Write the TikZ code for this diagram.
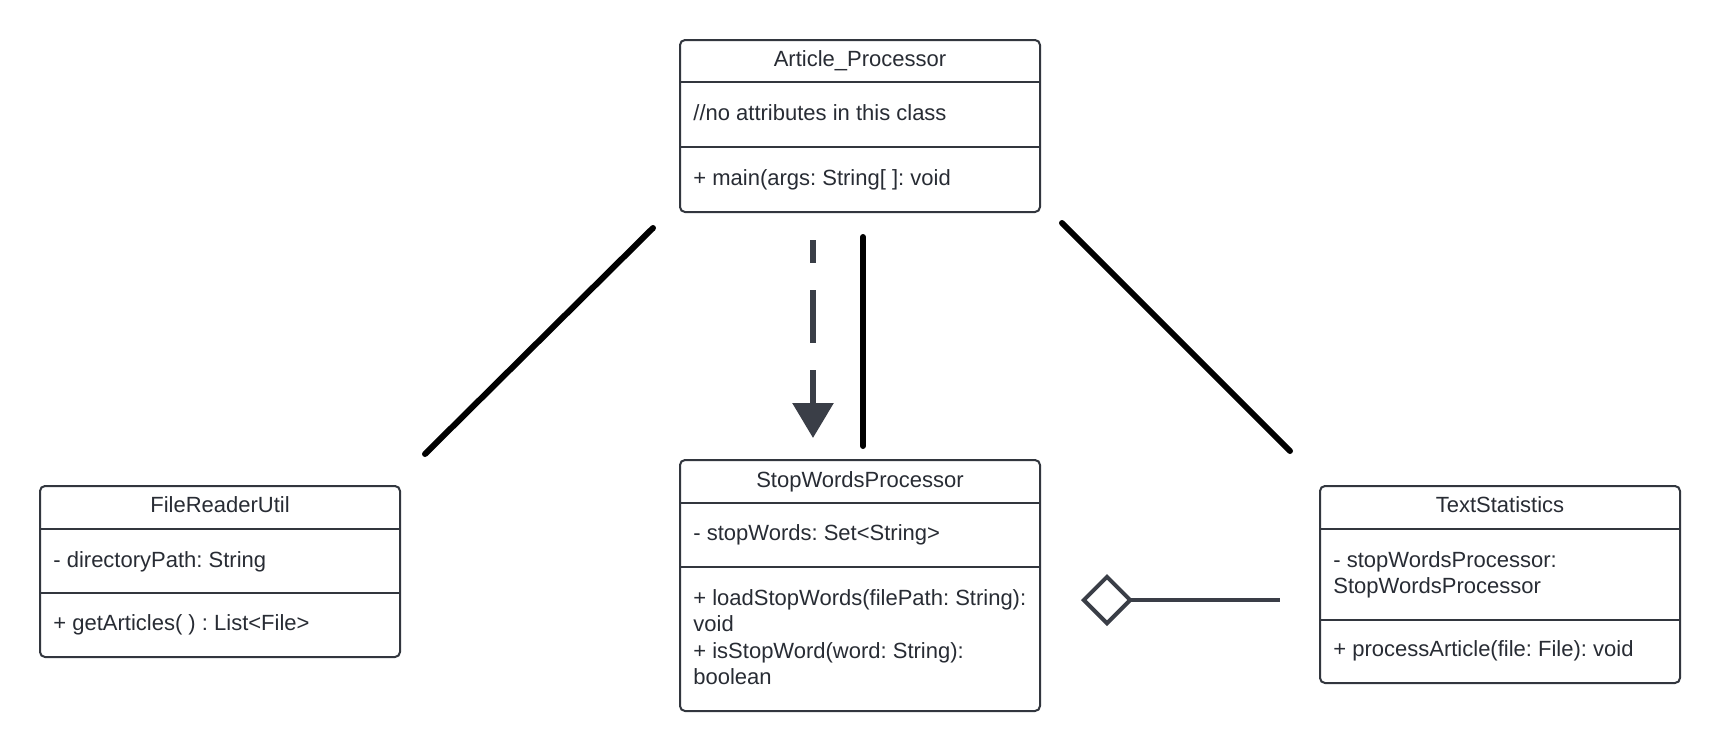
\documentclass[tikz,border=0pt]{standalone}
\usepackage{fontspec}
\setmainfont{Liberation Sans}
\usetikzlibrary{arrows.meta}
\definecolor{umltext}{RGB}{40,44,52}
\definecolor{umlline}{RGB}{50,54,62}
\definecolor{arrowc}{RGB}{58,62,71}
\tikzset{
  classbox/.style={draw=umlline, line width=1pt, rounded corners=2.5pt, fill=white, minimum width=180pt, inner sep=0pt},
  divider/.style={draw=umlline, line width=1pt},
  lbl/.style={font=\fontsize{11}{12.5}\selectfont\frenchspacing, text=umltext, inner sep=0pt},
  assoc/.style={draw=black, line width=3pt, line cap=round},
  depend/.style={draw=arrowc, line width=3pt, dash pattern=on 26.5pt off 13.5pt, dash phase=15pt, -{Triangle[length=17.5pt,width=20pt]}},
  aggr/.style={draw=arrowc, line width=2pt, {Diamond[open,length=26pt,width=26pt,line width=2pt]}-}
}
\begin{document}
\frenchspacing
\begin{tikzpicture}[x=0.5pt,y=-0.5pt]
\useasboundingbox (0,0) rectangle (1720,751);

% Article_Processor
\node[classbox, minimum height=86pt] (ap) at (860,126) {};
\draw[divider] (680,82) -- (1040,82);
\draw[divider] (680,147) -- (1040,147);
\node[lbl, anchor=base] (apt) at (860,66) {Article\_Processor};
\node[lbl, anchor=base west] (apa) at (693,120) {//no attributes in this class};
\node[lbl, anchor=base west] (apm) at (693,185) {+ main(args: String[ ]: void};

% FileReaderUtil
\node[classbox, minimum height=85.5pt] (fr) at (220,571.5) {};
\draw[divider] (40,529) -- (400,529);
\draw[divider] (40,593) -- (400,593);
\node[lbl, anchor=base] (frt) at (220,512) {FileReaderUtil};
\node[lbl, anchor=base west] (fra) at (53,567) {- directoryPath: String};
\node[lbl, anchor=base west] (frm) at (53,630) {+ getArticles( ) : List<File>};

% StopWordsProcessor
\node[classbox, minimum height=125.5pt] (sw) at (860,585.5) {};
\draw[divider] (680,503) -- (1040,503);
\draw[divider] (680,567) -- (1040,567);
\node[lbl, anchor=base] (swt) at (860,487) {StopWordsProcessor};
\node[lbl, anchor=base west] (swa) at (693,540) {- stopWords: Set<String>};
\node[lbl, anchor=base west] (swm1) at (693,605) {+ loadStopWords(filePath: String):};
\node[lbl, anchor=base west] (swm2) at (693,631.5) {void};
\node[lbl, anchor=base west] (swm3) at (693,658) {+ isStopWord(word: String):};
\node[lbl, anchor=base west] (swm4) at (693,684.5) {boolean};

% TextStatistics
\node[classbox, minimum height=98.5pt] (ts) at (1500,584.5) {};
\draw[divider] (1320,529) -- (1680,529);
\draw[divider] (1320,620) -- (1680,620);
\node[lbl, anchor=base] (tst) at (1500,512) {TextStatistics};
\node[lbl, anchor=base west] (tsa1) at (1333,567) {- stopWordsProcessor:};
\node[lbl, anchor=base west] (tsa2) at (1333,593) {StopWordsProcessor};
\node[lbl, anchor=base west] (tsm) at (1333,656) {+ processArticle(file: File): void};

% free-floating connectors
\coordinate (l1) at (653,228);
\coordinate (l2) at (425,454);
\coordinate (r1) at (1062,223);
\coordinate (r2) at (1290,451);
\coordinate (v1) at (863,237);
\coordinate (v2) at (863,446);
\coordinate (d1) at (813,240);
\coordinate (d2) at (813,438);
\coordinate (g1) at (1280,600);
\coordinate (g2) at (1081,600);

\draw[assoc] (l1) -- (l2);
\draw[assoc] (r1) -- (r2);
\draw[assoc] (v1) -- (v2);
\draw[depend] (d1) -- (d2);
\draw[aggr] (g2) -- (g1);
\end{tikzpicture}
\end{document}
